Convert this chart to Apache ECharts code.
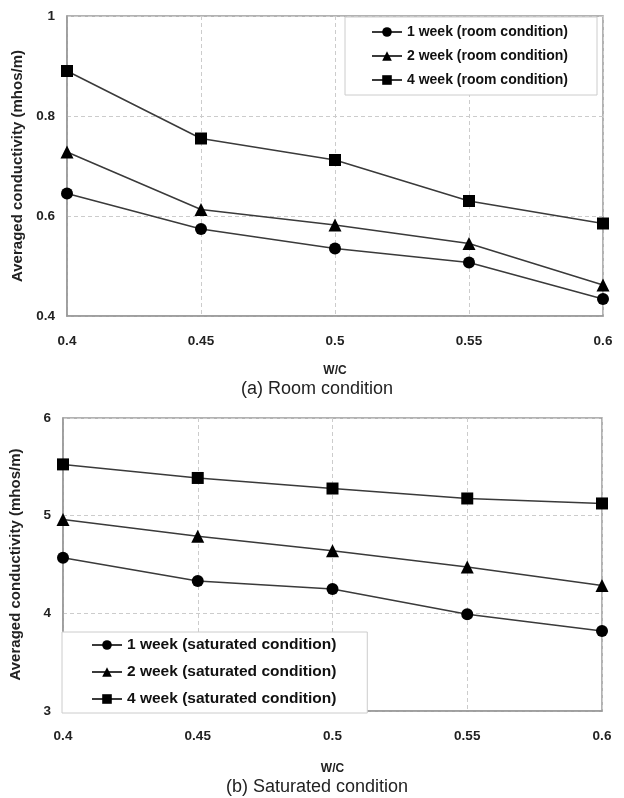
<!DOCTYPE html>
<html><head><meta charset="utf-8">
<script src="https://cdn.jsdelivr.net/npm/echarts@6/dist/echarts.min.js"></script>
<style>html,body{margin:0;padding:0;background:#fff}#c{width:624px;height:798px}</style>
</head><body><div id="c"></div>
<script>
var wc = [0.4, 0.45, 0.5, 0.55, 0.6];
var xTicks = ['0.4', '0.45', '0.5', '0.55', '0.6'];
var room1 = [0.645, 0.574, 0.535, 0.507, 0.434];
var room2 = [0.728, 0.613, 0.582, 0.545, 0.462];
var room4 = [0.890, 0.755, 0.712, 0.630, 0.585];
var sat1 = [4.57, 4.33, 4.25, 3.99, 3.82];
var sat2 = [4.96, 4.79, 4.64, 4.475, 4.285];
var sat4 = [5.525, 5.386, 5.278, 5.176, 5.125];
var roomNames = ['1 week (room condition)', '2 week (room condition)', '4 week (room condition)'];
var satNames = ['1 week (saturated condition)', '2 week (saturated condition)', '4 week (saturated condition)'];
var yTicksRoom = ['0.4', '0.6', '0.8', '1'];
var yTicksSat = ['3', '4', '5', '6'];

var FONT = 'Liberation Sans, Arial, sans-serif';
var symbols = ['circle', 'triangle', 'rect'];
function pairs(v) { return wc.map(function (x, i) { return [x, v[i]]; }); }
function mkSeries(names, vals, idx) {
  return names.map(function (n, i) {
    return {
      name: n, type: 'line', xAxisIndex: idx, yAxisIndex: idx,
      data: pairs(vals[i]), symbol: symbols[i],
      symbolSize: i === 1 ? 13 : 12,
      lineStyle: { color: '#3a3a3a', width: 1.5 },
      itemStyle: { color: '#000' }, z: 3
    };
  });
}
function xAxis(idx, gap) {
  return {
    type: 'value', gridIndex: idx, min: 0.4, max: 0.6, interval: 0.05,
    name: 'W/C', nameLocation: 'middle', nameGap: gap,
    nameTextStyle: { fontFamily: FONT, fontWeight: 'bold', fontSize: 12, color: '#222' },
    axisLine: { lineStyle: { color: '#999', width: 1.5 } },
    axisTick: { show: false },
    axisLabel: { margin: 18, fontFamily: FONT, fontWeight: 'bold', fontSize: 13.5, color: '#222',
      formatter: function (v) { return xTicks[Math.round((v - 0.4) / 0.05)]; } },
    splitLine: { show: true, lineStyle: { type: [4, 3], color: '#ccc' } }
  };
}
function yAxis(idx, min, max, interval, ticks) {
  return {
    type: 'value', gridIndex: idx, min: min, max: max, interval: interval,
    name: 'Averaged conductivity (mhos/m)', nameLocation: 'middle', nameGap: 40,
    nameTextStyle: { fontFamily: FONT, fontWeight: 'bold', fontSize: 15, color: '#222' },
    axisLine: { show: true, lineStyle: { color: '#999', width: 1.5 } },
    axisTick: { show: false },
    axisLabel: { margin: 12, fontFamily: FONT, fontWeight: 'bold', fontSize: 13.5, color: '#222',
      formatter: function (v) { return ticks[Math.round((v - min) / interval)]; } },
    splitLine: { show: true, lineStyle: { type: [4, 3], color: '#ccc' } }
  };
}
function legend(names, idx, pos, fs) {
  var o = {
    data: names, orient: 'vertical', itemGap: 8, itemWidth: 30, itemHeight: 12,
    backgroundColor: '#fff', borderColor: '#ccc', borderWidth: 1,
    textStyle: { fontFamily: FONT, fontWeight: 'bold', fontSize: fs, color: '#111' },
    z: 5
  };
  for (var k in pos) o[k] = pos[k];
  return o;
}

var chart = echarts.init(document.getElementById('c'), null, { renderer: 'canvas' });
chart.setOption({
  backgroundColor: '#fff',
  animation: false,
  grid: [
    { left: 67, top: 16, width: 536, height: 300, show: true, borderColor: '#999', borderWidth: 1.5 },
    { left: 59, top: 418, width: 543, height: 293, show: true, borderColor: '#999', borderWidth: 1.5 }
  ],
  xAxis: [xAxis(0, 49), xAxis(1, 52)],
  yAxis: [yAxis(0, 0.4, 1, 0.2, yTicksRoom), yAxis(1, 3, 6, 1, yTicksSat)],
  legend: [
    legend(roomNames, 0, { left: 345, top: 17, padding: [8, 29, 8, 26], itemGap: 10 }, 14),
    legend(satNames, 1, { left: 62, top: 632, padding: [5, 31, 6, 29], itemGap: 11 }, 15.5)
  ],
  title: [
    { text: '(a) Room condition', left: 312, top: 375, textAlign: 'center',
      textStyle: { fontFamily: FONT, fontWeight: 'normal', fontSize: 18, color: '#222' } },
    { text: '(b) Saturated condition', left: 312, top: 773, textAlign: 'center',
      textStyle: { fontFamily: FONT, fontWeight: 'normal', fontSize: 18, color: '#222' } }
  ],
  series: mkSeries(roomNames, [room1, room2, room4], 0).concat(mkSeries(satNames, [sat1, sat2, sat4], 1))
});
</script></body></html>
